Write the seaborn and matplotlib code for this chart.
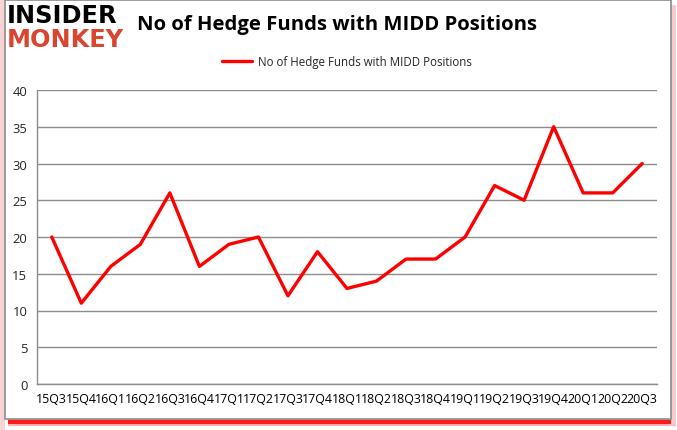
import matplotlib.pyplot as plt
import seaborn as sns
import pandas as pd
import numpy as np
from matplotlib.patches import Rectangle

# Data
quarters = ['15Q3', '15Q4', '16Q1', '16Q2', '16Q3', '16Q4', '17Q1', '17Q2', '17Q3', '17Q4',
            '18Q1', '18Q2', '18Q3', '18Q4', '19Q1', '19Q2', '19Q3', '19Q4', '20Q1', '20Q2', '20Q3']
funds = [20, 11, 16, 19, 26, 16, 19, 20, 12, 18, 13, 14, 17, 17, 20, 27, 25, 35, 26, 26, 30]
series_name = 'No of Hedge Funds with MIDD Positions'

df = pd.DataFrame({'quarter': quarters, 'funds': funds})

sns.set_style('white')
plt.rcParams['font.family'] = ['Open Sans', 'DejaVu Sans']

fig = plt.figure(figsize=(6.77, 4.31), dpi=100)
W, H = 677, 431

# Chart frame with shadow (Excel-like)
fig.patches.append(Rectangle((0 / W, 0), 5 / W, 1, transform=fig.transFigure,
                             facecolor='#f8d4d4', edgecolor='none', zorder=0))
fig.patches.append(Rectangle((8 / W, 1 - 427 / H), 668 / W, 7 / H, transform=fig.transFigure,
                             facecolor='#ffb0b0', edgecolor='none', zorder=0))
fig.patches.append(Rectangle((8 / W, 1 - 425 / H), 666 / W, 4 / H, transform=fig.transFigure,
                             facecolor='#ff1a1a', edgecolor='none', zorder=0))
fig.patches.append(Rectangle((671 / W, 1 - 426 / H), 5 / W, 420 / H, transform=fig.transFigure,
                             facecolor='#f8cccc', edgecolor='none', zorder=0))
fig.patches.append(Rectangle((5 / W, 1 - 420 / H), 666 / W, 419 / H, transform=fig.transFigure,
                             facecolor='white', edgecolor='#8c8c8c', linewidth=1.2, zorder=1))

ax = fig.add_axes([37 / W, 1 - 385 / H, 620 / W, 294 / H])
ax.set_zorder(2)
ax.patch.set_alpha(0)

sns.lineplot(data=df, x='quarter', y='funds', color='#ff0000', linewidth=2.4,
             label=series_name, ax=ax, sort=False)

ax.set_xlim(-0.5, len(quarters) - 0.5)
ax.set_ylim(0, 40)
ax.set_yticks(range(0, 41, 5))
ax.yaxis.grid(True, color='#8c8c8c', linewidth=1)
ax.set_axisbelow(True)

ax.set_xticks(range(len(quarters)))
ax.set_xticklabels(quarters)
ax.set_xticks(np.arange(-0.5, len(quarters), 1), minor=True)
ax.tick_params(axis='x', which='major', length=0, pad=6, labelsize=8.9, colors='black')
ax.tick_params(axis='x', which='minor', length=5, width=1, color='#8c8c8c', direction='out')
ax.tick_params(axis='y', length=4, width=1, color='#8c8c8c', labelsize=9.4, pad=3)

for side in ['top', 'right']:
    ax.spines[side].set_visible(False)
for side in ['left', 'bottom']:
    ax.spines[side].set_color('#8c8c8c')
    ax.spines[side].set_linewidth(1)

ax.set_xlabel('')
ax.set_ylabel('')

ax.legend(loc='lower center', bbox_to_anchor=(0.5, 1.04), frameon=False, fontsize=8.3,
          handlelength=2.6, handletextpad=0.5)

fig.text(337 / W, 1 - 25 / H, 'No of Hedge Funds with MIDD Positions', ha='center', va='center',
         fontsize=14.6, fontweight='bold', color='black')

# Logo
fig.text(7 / W, 1 - 16 / H, 'INSIDER', ha='left', va='center', fontsize=17.3, fontweight='heavy',
         color='black', family='DejaVu Sans')
fig.text(7 / W, 1 - 40 / H, 'MONKEY', ha='left', va='center', fontsize=17.3, fontweight='heavy',
         color='#d9452f', family='DejaVu Sans')

fig.savefig('out.png', dpi=100)
